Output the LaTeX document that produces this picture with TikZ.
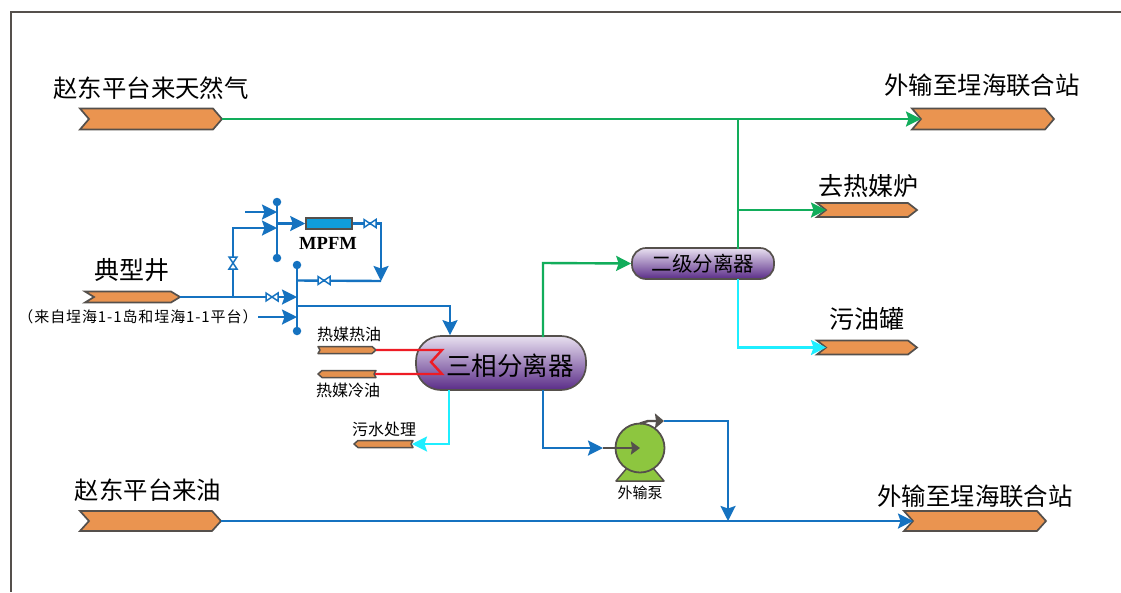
\documentclass[tikz,border=0pt]{standalone}
\usepackage{fontspec}
\setmainfont{Noto Sans CJK SC}
\newfontfamily\latinserif{Liberation Serif}
\usetikzlibrary{arrows.meta,shapes.misc,calc}
\definecolor{pipeblue}{HTML}{1572C0}
\definecolor{pipegreen}{HTML}{12AD5B}
\definecolor{pipecyan}{HTML}{1FEEFF}
\definecolor{pipered}{HTML}{EE1C25}
\definecolor{streamfill}{HTML}{EA9450}
\definecolor{edgegray}{HTML}{55504C}
\definecolor{pumpgreen}{HTML}{8DC63F}
\definecolor{meterblue}{HTML}{0F9DDB}
\definecolor{purpletop}{HTML}{E8E0F0}
\definecolor{purplebot}{HTML}{5A2C88}
\tikzset{
  x=1pt,y=-1pt,
  bigtip/.style={-{Stealth[length=15pt,width=15pt,inset=2.5pt]}},
  line/.style={line width=2.4pt,line join=miter},
  blueline/.style={line,draw=pipeblue},
  greenline/.style={line,draw=pipegreen},
  cyanline/.style={line,draw=pipecyan},
  redline/.style={line,draw=pipered},
  streamshape/.style={draw=edgegray,fill=streamfill,line width=1.7pt,line join=miter},
  smallstream/.style={draw=edgegray,fill=streamfill!85!brown,line width=1.5pt,line join=round},
  vessel/.style={rectangle,draw=edgegray,line width=1.7pt,top color=purpletop,bottom color=purplebot,inner sep=0pt,text=black!85},
  valveshape/.style={draw=pipeblue,fill=white,line width=1.5pt,line join=miter},
  dot/.style={circle,fill=pipeblue,inner sep=0pt,minimum size=8.5pt},
  lab/.style={inner sep=0pt,text=black},
  big/.style={lab,font=\fontsize{24.4}{26}\selectfont},
  big2/.style={lab,font=\fontsize{25}{27}\selectfont},
  mid/.style={lab,font=\fontsize{16}{18}\selectfont},
}
% right-pointing stream with notch at left: name x1 x2 yc half-height
\newcommand{\streamR}[5]{%
  \draw[streamshape] (#2,#4-#5) -- (#3-9,#4-#5) -- (#3,#4) -- (#3-9,#4+#5) -- (#2,#4+#5) -- (#2+9,#4) -- cycle;
  \coordinate (#1w) at (#2+9,#4);
  \coordinate (#1e) at (#3,#4);}
\newcommand{\valveH}[2]{\draw[valveshape] (#1-6,#2-4) -- (#1+6,#2+4) -- (#1+6,#2-4) -- (#1-6,#2+4) -- cycle;}
\newcommand{\valveV}[2]{\draw[valveshape] (#1-4,#2-6) -- (#1+4,#2+6) -- (#1-4,#2+6) -- (#1+4,#2-6) -- cycle;}
\begin{document}
\begin{tikzpicture}
\useasboundingbox (0,0) rectangle (1121,592);
\fill[white] (0,0) rectangle (1121,592);
\draw[edgegray,line width=1.2pt] (1121,12) -- (11,12) -- (11,592);

% streams
\streamR{ga}{80}{222}{119}{10.5}
\streamR{gb}{912}{1054}{119}{10.5}
\streamR{hm}{817}{917}{210}{7}
\streamR{wy}{817}{917}{347.5}{7}
\streamR{oa}{80}{221}{521}{10}
\streamR{ob}{904}{1046}{521}{10}
\streamR{well}{85}{180}{297}{5.5}

% small heating and water streams
\draw[smallstream] (318,346.5) -- (372,346.5) -- (376,350) -- (372,353.5) -- (318,353.5) -- (320,350) -- cycle;
\coordinate (hote) at (376,350);
\draw[smallstream] (322,370.5) -- (376,370.5) -- (374,374) -- (376,377.5) -- (322,377.5) -- (318,374) -- cycle;
\coordinate (colde) at (375,374);
\draw[smallstream] (358,440.5) -- (413,440.5) -- (411,444) -- (413,447.5) -- (358,447.5) -- (354,444) -- cycle;
\coordinate (sewe) at (412,444);

% vessels
\node[vessel,rounded corners=25pt,minimum width=170pt,minimum height=54pt] (sep3) at (501,363) {};
\node[vessel,rounded corners=14pt,minimum width=142pt,minimum height=31pt] (sep2) at (703,263.5) {};
\node[lab,font=\fontsize{25.5}{27}\selectfont] (sep3t) at (510,366) {三相分离器};
\node[lab,font=\fontsize{20.5}{22}\selectfont] (sep2t) at (703,264) {二级分离器};

% junction coordinates
\coordinate (gtop) at (738,119);
\coordinate (gmid) at (738,210);
\coordinate (s2top) at (738,249);
\coordinate (s2bot) at (738,279);
\coordinate (wcorner) at (738,347.5);
\coordinate (s3top) at (543,337);
\coordinate (gup) at (543,263);
\coordinate (s3bot) at (543,390);
\coordinate (bcorner) at (543,448);
\coordinate (cyantop) at (449,390);
\coordinate (cyancorner) at (449,444);

% green and cyan pipes
\draw[greenline,bigtip] (gae) -- (gbw);
\draw[greenline] (gtop) -- (s2top);
\draw[greenline,bigtip] (gmid) -- (hmw);
\draw[greenline,bigtip] (s3top) -- (gup) -- (sep2.west);
\draw[cyanline,bigtip] (s2bot) -- (wcorner) -- (wyw);
\draw[cyanline,bigtip] (cyantop) -- (cyancorner) -- (sewe);

% red heating coil
\coordinate (c1) at (442,350);
\coordinate (c2) at (431,362);
\coordinate (c3) at (442,374);
\draw[redline] (hote) -- (c1) -- (c2) -- (c3) -- (colde);

% manifolds
\coordinate (ma) at (277,202);
\coordinate (mb) at (277,258);
\coordinate (mc) at (297,265);
\coordinate (md) at (297,331);
\draw[blueline] (ma) -- (mb);
\draw[blueline] (mc) -- (md);
\node[dot] (mad) at (ma) {};
\node[dot] (mbd) at (mb) {};
\node[dot] (mcd) at (mc) {};
\node[dot] (mdd) at (md) {};

% MPFM
\node[draw=edgegray,fill=meterblue,line width=1.5pt,minimum width=46pt,minimum height=11pt,inner sep=0pt] (mpfm) at (329,223.5) {};
\node[lab,font=\latinserif\bfseries\fontsize{18.5}{20}\selectfont] (mpfmt) at (328,243) {MPFM};

% blue pipes, well side
\coordinate (in1) at (245,212);
\coordinate (m1) at (277,212);
\coordinate (m2) at (277,228);
\coordinate (lb) at (233,228);
\coordinate (lbb) at (233,297);
\coordinate (mout) at (277,223.5);
\coordinate (rt) at (381,223.5);
\coordinate (rb) at (381,281);
\coordinate (m3) at (297,280.5);
\coordinate (m4) at (297,297);
\coordinate (in2) at (258,317);
\coordinate (m5) at (297,317);
\coordinate (o1) at (297,306);
\coordinate (o2) at (450,306);
\draw[blueline,bigtip] (in1) -- (m1);
\draw[blueline,bigtip] (lbb) -- (lb) -- (m2);
\draw[blueline,bigtip] (mout) -- (mpfm.west);
\draw[blueline,bigtip] (mpfm.east) -- (rt) -- (rb);
\draw[blueline] (rb) -- (m3);
\draw[blueline,bigtip] (welle) -- (m4);
\draw[blueline,bigtip] (in2) -- (m5);
\draw[blueline,bigtip] (o1) -- (o2) -- (sep3.north -| o2);
\valveH{370}{223.5}
\valveH{324}{280.5}
\valveH{272}{297}
\valveV{233}{263}

% pump
\draw[draw=edgegray,fill=pumpgreen,line width=1.5pt,line join=round] (627,468) -- (616,481) -- (664,481) -- (653,468);
\node[circle,draw=edgegray,fill=pumpgreen,line width=1.8pt,minimum size=49pt,inner sep=0pt] (pump) at (640,448) {};
\coordinate (pin) at (603,448);
\coordinate (pout) at (664,421);
\coordinate (ptop) at (640,423.5);
\draw[blueline,bigtip] (s3bot) -- (bcorner) -- (pin);
\draw[line width=2.4pt,draw=edgegray,-{Stealth[length=9pt,width=13pt,inset=1pt]}] (pin) -- (pump.center);
\draw[line width=2.4pt,draw=edgegray,-{Stealth[length=9pt,width=15pt,inset=1pt]}] (ptop) -- (648,421) -- (pout);

% export line
\coordinate (ej) at (728,521);
\coordinate (ec) at (728,421);
\draw[blueline,bigtip] (oae) -- (obw);
\draw[blueline,bigtip] (pout) -- (ec) -- (ej);

% labels
\node[big] (l1) at (151,88) {赵东平台来天然气};
\node[big] (l2) at (982,85) {外输至埕海联合站};
\node[big2] (l3) at (868,186) {去热媒炉};
\node[big2] (l4) at (867,319) {污油罐};
\node[big2] (l5) at (132,270) {典型井};
\node[lab,font=\addfontfeature{LetterSpace=6}\fontsize{15}{17}\selectfont] (l6) at (138,317) {（来自埕海1-1岛和埕海1-1平台）};
\node[mid] (l7) at (349,334) {热媒热油};
\node[mid] (l8) at (348,390) {热媒冷油};
\node[mid] (l9) at (384,429) {污水处理};
\node[lab,font=\fontsize{15}{17}\selectfont] (l10) at (640,493) {外输泵};
\node[big] (l11) at (148,490) {赵东平台来油};
\node[big] (l12) at (975,496) {外输至埕海联合站};
\end{tikzpicture}
\end{document}
